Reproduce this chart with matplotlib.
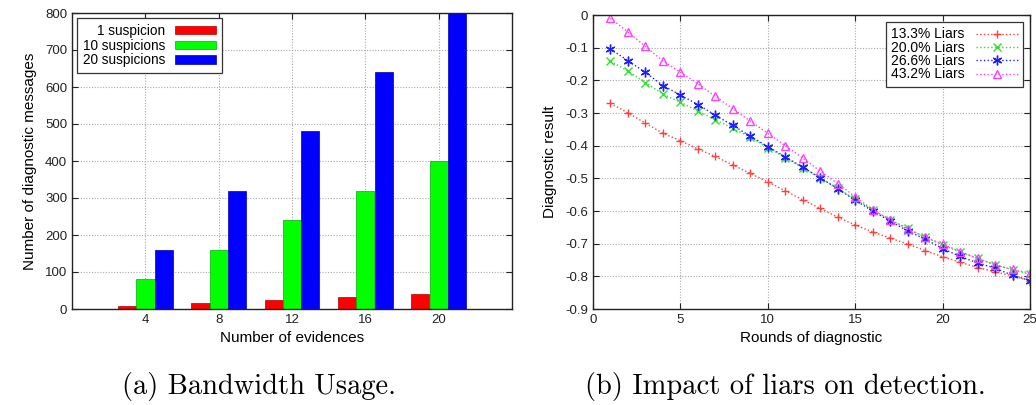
import matplotlib
matplotlib.use("Agg")
import matplotlib.pyplot as plt
import numpy as np

# ---- data: left panel (bandwidth usage) ----
evidences = [4, 8, 12, 16, 20]
bar_labels = ["1 suspicion", "10 suspicions", "20 suspicions"]
msgs_1 = [8, 16, 24, 32, 40]
msgs_10 = [80, 160, 240, 320, 400]
msgs_20 = [160, 320, 480, 640, 800]

# ---- data: right panel (impact of liars) ----
rounds = list(range(1, 26))
line_labels = ["13.3% Liars", "20.0% Liars", "26.6% Liars", "43.2% Liars"]
liars_133 = [-0.270, -0.300, -0.331, -0.362, -0.385, -0.410, -0.433, -0.459, -0.485, -0.511,
             -0.538, -0.566, -0.592, -0.619, -0.643, -0.664, -0.683, -0.701, -0.721, -0.740,
             -0.757, -0.773, -0.786, -0.799, -0.813]
liars_200 = [-0.141, -0.172, -0.207, -0.242, -0.267, -0.294, -0.321, -0.347, -0.374, -0.406,
             -0.437, -0.468, -0.499, -0.531, -0.564, -0.596, -0.627, -0.653, -0.680, -0.704,
             -0.726, -0.745, -0.765, -0.780, -0.794]
liars_266 = [-0.104, -0.140, -0.176, -0.216, -0.245, -0.274, -0.307, -0.338, -0.371, -0.403,
             -0.434, -0.466, -0.498, -0.532, -0.567, -0.600, -0.631, -0.661, -0.686, -0.715,
             -0.739, -0.759, -0.775, -0.797, -0.813]
liars_432 = [-0.010, -0.052, -0.096, -0.141, -0.175, -0.211, -0.249, -0.287, -0.325, -0.362,
             -0.400, -0.438, -0.478, -0.516, -0.556, -0.596, -0.627, -0.655, -0.680, -0.701,
             -0.724, -0.745, -0.765, -0.779, -0.790]

plt.rcParams['font.family'] = ['Liberation Sans', 'DejaVu Sans']
plt.rcParams['font.size'] = 9.5

fig = plt.figure(figsize=(10.36, 4.05), dpi=100)
W, H = 1036.0, 405.0

def style_axes(ax):
    ax.grid(True, linestyle=(0, (1, 1.5)), color='#a8a8a8', linewidth=0.8)
    ax.set_axisbelow(True)
    ax.tick_params(direction='in', top=True, right=True, length=4, width=0.8,
                   labelsize=9.5, colors='#222222')
    for s in ax.spines.values():
        s.set_linewidth(1.0)
        s.set_color('#222222')

# ---- left panel ----
ax1 = fig.add_axes([72 / W, 96 / H, 440 / W, 296 / H])
x = np.array(evidences, dtype=float)
ax1.bar(x - 1, msgs_1, width=1.0, color='#ff0000', edgecolor='#b00000', linewidth=0.5, label=bar_labels[0])
ax1.bar(x, msgs_10, width=1.0, color='#00ff00', edgecolor='#00b000', linewidth=0.5, label=bar_labels[1])
ax1.bar(x + 1, msgs_20, width=1.0, color='#0000ff', edgecolor='#0000b0', linewidth=0.5, label=bar_labels[2])
ax1.set_xlim(0, 24)
ax1.set_ylim(0, 800)
ax1.set_xticks(evidences)
ax1.set_yticks(range(0, 801, 100))
style_axes(ax1)
ax1.set_xlabel("Number of evidences", fontsize=11, labelpad=4)
ax1.set_ylabel("Number of diagnostic messages", fontsize=11, labelpad=6)
leg1 = ax1.legend(loc='upper left', markerfirst=False, fancybox=False, framealpha=1,
                  edgecolor='#333333', fontsize=9.8, handlelength=3.0, handleheight=0.55,
                  borderpad=0.45, labelspacing=0.05, borderaxespad=0.35, handletextpad=0.7)
leg1.get_frame().set_linewidth(0.9)

# ---- right panel ----
ax2 = fig.add_axes([593 / W, 96 / H, 437 / W, 294 / H])
ax2.plot(rounds, liars_133, linestyle=':', color='#ff4040', marker='+', markersize=6,
         markeredgewidth=1.0, linewidth=1.0, label=line_labels[0])
ax2.plot(rounds, liars_200, linestyle=':', color='#30e030', marker='x', markersize=6,
         markeredgewidth=1.0, linewidth=1.0, label=line_labels[1])
ax2.plot(rounds, liars_266, linestyle=':', color='#2020ff', marker=(6, 2, 0), markersize=7,
         markeredgewidth=1.0, linewidth=1.0, label=line_labels[2])
ax2.plot(rounds, liars_432, linestyle=':', color='#ff40ff', marker='^', markersize=6,
         markerfacecolor='none', markeredgewidth=1.0, linewidth=1.0, label=line_labels[3])
ax2.set_xlim(0, 25)
ax2.set_ylim(-0.9, 0)
ax2.set_xticks(range(0, 26, 5))
ax2.set_yticks(np.round(np.arange(-0.9, 0.01, 0.1), 1))
ax2.set_yticklabels(["-0.9", "-0.8", "-0.7", "-0.6", "-0.5", "-0.4", "-0.3", "-0.2", "-0.1", "0"])
style_axes(ax2)
ax2.set_xlabel("Rounds of diagnostic", fontsize=11, labelpad=4)
ax2.set_ylabel("Diagnostic result", fontsize=11, labelpad=6)
leg2 = ax2.legend(loc='upper right', markerfirst=False, fancybox=False, framealpha=1,
                  edgecolor='#333333', fontsize=10, handlelength=3.0,
                  borderpad=0.4, labelspacing=-0.05, borderaxespad=0.5, handletextpad=0.8)
leg2.get_frame().set_linewidth(0.9)

# ---- captions ----
fig.text(259 / W, 1 - 394 / H, "(a) Bandwidth Usage.", ha='center', va='baseline',
         fontsize=20.5, family=['cmr10'])
fig.text(785 / W, 1 - 394 / H, "(b) Impact of liars on detection.", ha='center', va='baseline',
         fontsize=20.5, family=['cmr10'])

fig.savefig("out.png", dpi=100)
